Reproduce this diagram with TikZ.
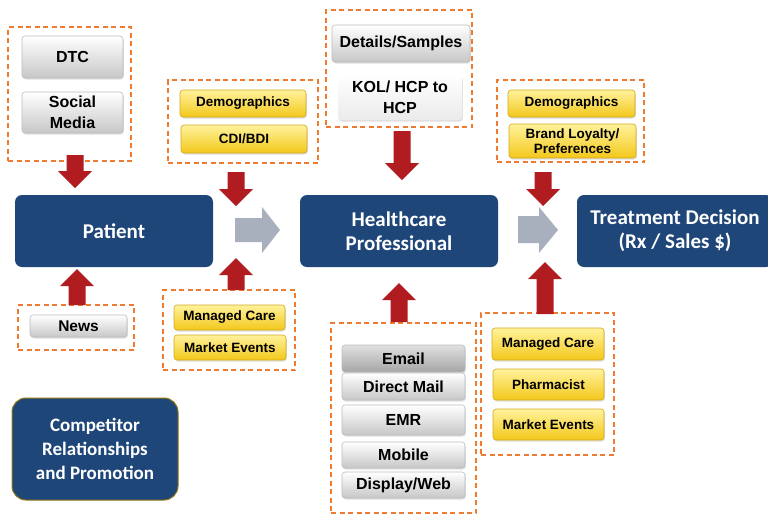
\documentclass[tikz,border=0pt]{standalone}
\usepackage{fontspec}
\setmainfont{Liberation Sans}
\newfontfamily\calfont{Carlito}
\usetikzlibrary{shadows}

\definecolor{navy}{HTML}{1F4678}
\definecolor{dashorange}{HTML}{EE7B30}
\definecolor{arrowred}{HTML}{B01C1F}
\definecolor{arrowgrey}{HTML}{A8AFBD}
\definecolor{yeltop}{HTML}{FFF29C}
\definecolor{yelbot}{HTML}{F3C81A}
\definecolor{yeledge}{HTML}{D2A91E}
\definecolor{greyedge}{HTML}{BCBCBC}

\tikzset{
  grp/.style={draw=dashorange, line width=1.6pt, dash pattern=on 5pt off 3.5pt, inner sep=0pt},
  bluebox/.style={fill=navy, rounded corners=7pt, text=white, align=center,
    font=\calfont\bfseries\fontsize{21}{24}\selectfont, inner sep=0pt},
  greybox/.style={top color=white, bottom color=black!22, draw=greyedge, line width=0.6pt,
    rounded corners=3pt, align=center, inner sep=0pt,
    drop shadow={opacity=0.25, shadow xshift=0.8pt, shadow yshift=-1.5pt},
    font=\bfseries\fontsize{16}{21}\selectfont},
  yelbox/.style={top color=yeltop, bottom color=yelbot, draw=yeledge, line width=0.6pt,
    rounded corners=3pt, align=center, inner sep=0pt,
    drop shadow={opacity=0.25, shadow xshift=0.8pt, shadow yshift=-1.5pt},
    font=\bfseries\fontsize{13.5}{15.5}\selectfont},
  redarr/.style={fill=arrowred},
  greyarr/.style={fill=arrowgrey},
}

% vertical block arrow: x, y of base, y of tip
\newcommand\vblock[3]{%
  \pgfmathsetmacro\dir{(#3>#2)?1:-1}%
  \pgfmathsetmacro\yh{#3-\dir*17}%
  \fill[redarr] (#1-8.5,#2) -- (#1-8.5,\yh) -- (#1-17,\yh) -- (#1,#3)
    -- (#1+17,\yh) -- (#1+8.5,\yh) -- (#1+8.5,#2) -- cycle;}

\begin{document}
\begin{tikzpicture}[x=1pt, y=-1pt]
\useasboundingbox (0,0) rectangle (768,515);

% main flow
\node[bluebox, minimum width=198pt, minimum height=72pt] (patient) at (114,231) {Patient};
\node[bluebox, minimum width=198pt, minimum height=72pt] (hcp) at (399,231) {Healthcare\\Professional};
\node[bluebox, minimum width=196pt, minimum height=72pt] (td) at (675,231) {Treatment Decision\\(Rx / Sales \$)};
\node[bluebox, draw=yeledge!70!black, line width=1pt, rounded corners=14pt,
      font=\calfont\bfseries\fontsize{19}{24}\selectfont,
      minimum width=166pt, minimum height=102pt] (comp) at (95,449) {Competitor\\Relationships\\and Promotion};

% patient drivers
\node[grp, minimum width=123pt, minimum height=134pt] (g1) at (69.5,94) {};
\node[greybox, minimum width=101pt, minimum height=42pt] (dtc) at (72.5,57) {DTC};
\node[greybox, minimum width=101pt, minimum height=41pt] (social) at (72.5,112.5) {Social\\Media};

\node[grp, minimum width=116pt, minimum height=45pt] (g3) at (76,327.5) {};
\node[greybox, minimum width=97pt, minimum height=22pt, font=\bfseries\fontsize{15.5}{18}\selectfont] (news) at (78.5,326) {News};

% patient-to-HCP transition
\node[grp, minimum width=150pt, minimum height=83pt] (g2) at (243,121.5) {};
\node[yelbox, minimum width=126pt, minimum height=27pt] (demo1) at (243,103.5) {Demographics};
\node[yelbox, minimum width=126pt, minimum height=28pt] (cdi) at (244,139) {CDI/BDI};

\node[grp, minimum width=132pt, minimum height=80pt] (g4) at (229,330) {};
\node[yelbox, minimum width=111pt, minimum height=25pt] (mc1) at (229.5,317.5) {Managed Care};
\node[yelbox, minimum width=112pt, minimum height=25pt] (me1) at (230,347.5) {Market Events};

% HCP drivers
\node[grp, minimum width=146pt, minimum height=117pt] (g5) at (399,68.5) {};
\node[greybox, minimum width=138pt, minimum height=37pt] (det) at (401,43.5) {Details/Samples};
\node[greybox, draw=none, top color=white, bottom color=black!8, minimum width=124pt, minimum height=45pt] (kol) at (400,97.5) {KOL/ HCP to\\HCP};

\node[grp, minimum width=145pt, minimum height=190pt] (g6) at (403.5,418) {};
\node[greybox, top color=black!12, bottom color=black!35, minimum width=123pt, minimum height=27pt] (email) at (403.5,358.5) {Email};
\node[greybox, minimum width=123pt, minimum height=27pt] (dmail) at (403.5,386.5) {Direct Mail};
\node[greybox, minimum width=123pt, minimum height=30pt] (emr) at (403.5,420) {EMR};
\node[greybox, minimum width=123pt, minimum height=26pt] (mobile) at (403.5,455) {Mobile};
\node[greybox, minimum width=123pt, minimum height=26pt] (web) at (403.5,485) {Display/Web};

% HCP-to-decision transition
\node[grp, minimum width=147pt, minimum height=82pt] (g7) at (570.5,121) {};
\node[yelbox, minimum width=127pt, minimum height=27pt] (demo2) at (571.5,103.5) {Demographics};
\node[yelbox, minimum width=127pt, minimum height=34pt] (brand) at (572.5,141) {Brand Loyalty/\\Preferences};

\node[grp, minimum width=133pt, minimum height=142pt] (g8) at (547.5,384) {};
\node[yelbox, minimum width=112pt, minimum height=32pt] (mc2) at (548,344) {Managed Care};
\node[yelbox, minimum width=111pt, minimum height=31pt] (ph) at (548.5,384.5) {Pharmacist};
\node[yelbox, minimum width=111pt, minimum height=31pt] (me2) at (548.5,424.5) {Market Events};

% red influence arrows
\vblock{75}{155}{188}
\vblock{77}{305}{269}
\vblock{236}{172}{206}
\vblock{236}{290}{258}
\vblock{402}{131}{180}
\vblock{399}{322}{283}
\vblock{543}{172}{206}
\vblock{545}{314}{262}

% grey flow arrows
\fill[greyarr] (235,218) -- (262,218) -- (262,207) -- (280,230) -- (262,253) -- (262,242) -- (235,242) -- cycle;
\fill[greyarr] (518,216) -- (539,216) -- (539,207) -- (558,230) -- (539,253) -- (539,243) -- (518,243) -- cycle;
\end{tikzpicture}
\end{document}
